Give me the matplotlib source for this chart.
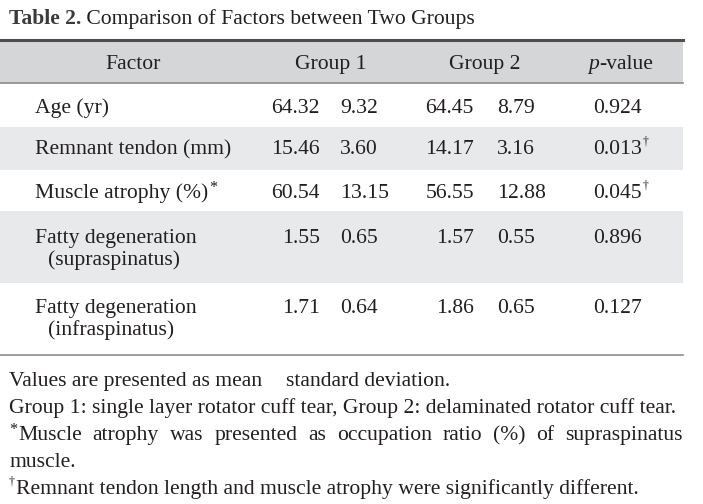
import matplotlib.pyplot as plt

# table data
headers = ["Factor", "Group 1", "Group 2", "p-value"]
factors = [
    ["Age (yr)"],
    ["Remnant tendon (mm)"],
    ["Muscle atrophy (%)"],
    ["Fatty degeneration", "(supraspinatus)"],
    ["Fatty degeneration", "(infraspinatus)"],
]
factor_marks = ["", "", "*", "", ""]
group1_mean = ["64.32", "15.46", "60.54", "1.55", "1.71"]
group1_sd = ["9.32", "3.60", "13.15", "0.65", "0.64"]
group2_mean = ["64.45", "14.17", "56.55", "1.57", "1.86"]
group2_sd = ["8.79", "3.16", "12.88", "0.55", "0.65"]
p_values = ["0.924", "0.013", "0.045", "0.896", "0.127"]
p_marks = ["", "\u2020", "\u2020", "", ""]

title_bold = "Table 2."
title_rest = " Comparison of Factors between Two Groups"
notes = [
    "Group 1: single layer rotator cuff tear, Group 2: delaminated rotator cuff tear.",
    "Muscle atrophy was presented as occupation ratio (%) of supraspinatus",
    "muscle.",
    "Remnant tendon length and muscle atrophy were significantly different.",
]

FONT = "Liberation Serif"
FS = 15.6
TXT = "#231f20"
HEAD_BG = "#d5d6d8"
ROW_BG = "#e8e9ea"

fig = plt.figure(figsize=(7.03, 5.04), dpi=100)
ax = fig.add_axes([0, 0, 1, 1])
ax.set_xlim(0, 703)
ax.set_ylim(504, 0)
ax.axis("off")

left, right = 0, 683

# header band and rules
ax.fill_between([left, right], 40, 83, color=HEAD_BG, lw=0)
ax.plot([left, right], [40, 40], color="#4d4d4f", lw=2.2)
ax.plot([left, right], [83, 83], color="#8c8c8e", lw=1.2)

# row bands
row_tops = [83, 127, 170, 211, 283]
row_bots = [127, 170, 211, 283, 355]
for i in range(len(factors)):
    if i % 2 == 1:
        ax.fill_between([left, right], row_tops[i], row_bots[i], color=ROW_BG, lw=0)
ax.plot([left, right], [355, 355], color="#8c8c8e", lw=1.2)

kw = dict(fontfamily=FONT, fontsize=FS, color=TXT, va="baseline")
small = dict(fontfamily=FONT, fontsize=FS * 0.75, color=TXT, va="baseline")

fig.canvas.draw()
r = fig.canvas.get_renderer()


def width(t):
    return t.get_window_extent(r).width


# title
t = ax.text(9, 24, title_bold, fontweight="bold", fontfamily=FONT,
            fontsize=FS, color="#3b3b3d", va="baseline")
ax.text(9 + width(t), 24, title_rest, **kw)

# header labels
hy = 69
ax.text(133, hy, headers[0], ha="center", **kw)
ax.text(331, hy, headers[1], ha="center", **kw)
ax.text(485, hy, headers[2], ha="center", **kw)
pv = ax.text(588, hy, "p", fontstyle="italic", **kw)
ax.text(588 + width(pv), hy, "-value", **kw)

# body rows
first_lines = [113, 154, 198, 243, 313]
line_gap = 22
for i, lines in enumerate(factors):
    y = first_lines[i]
    ft = ax.text(35, y, lines[0], **kw)
    if factor_marks[i]:
        ax.text(35 + width(ft) + 1, y - 6, factor_marks[i], **small)
    if len(lines) > 1:
        ax.text(48, y + line_gap, lines[1], **kw)
    ax.text(320, y, group1_mean[i], ha="right", **kw)
    ax.text(340, y, group1_sd[i], **kw)
    ax.text(474, y, group2_mean[i], ha="right", **kw)
    ax.text(497, y, group2_sd[i], **kw)
    pt = ax.text(593, y, p_values[i], **kw)
    if p_marks[i]:
        ax.text(593 + width(pt) + 1, y - 9, p_marks[i], fontfamily=FONT,
                fontsize=FS * 0.55, color=TXT, va="baseline")

# footnotes
note_y = [386, 413, 440, 467, 494]
ax.text(9, note_y[0], "Values are presented as mean", **kw)
ax.text(286, note_y[0], "standard deviation.", **kw)
ax.text(9, note_y[1], notes[0], **kw)

# justified line, starts with a raised asterisk
star = ax.text(9, note_y[2] - 6, "*", **small)
x0 = 9 + width(star) + 1
words = notes[1].split(" ")
objs = [ax.text(0, note_y[2], w, **kw) for w in words]
widths = [width(o) for o in objs]
gap = (right - x0 - sum(widths)) / (len(words) - 1)
x = x0
for o, w in zip(objs, widths):
    o.set_x(x)
    x += w + gap

ax.text(9, note_y[3], notes[2], **kw)
ax.text(9, note_y[4] - 9, "\u2020", fontfamily=FONT, fontsize=FS * 0.55,
        color=TXT, va="baseline")
ax.text(16, note_y[4], notes[3], **kw)

fig.savefig("out.png", dpi=100)
